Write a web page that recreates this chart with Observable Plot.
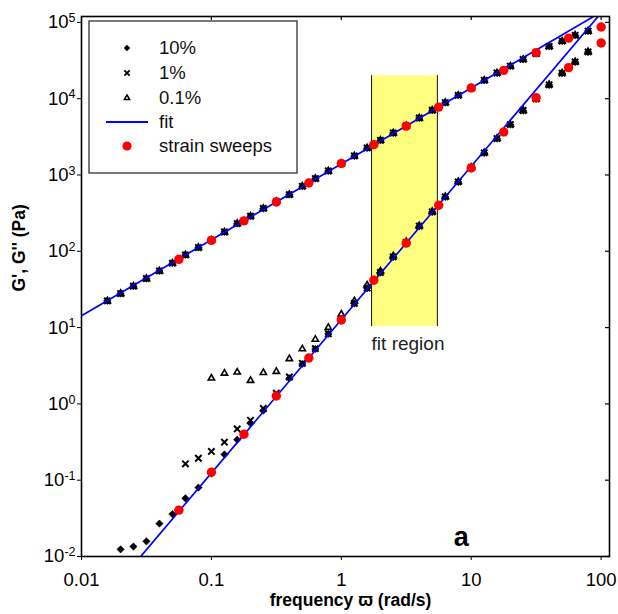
<!DOCTYPE html>
<html><head><meta charset="utf-8">
<script src="https://cdn.jsdelivr.net/npm/d3@7"></script>
<script src="https://cdn.jsdelivr.net/npm/@observablehq/plot@0.6"></script>
<style>
html,body{margin:0;padding:0;background:#fff;}
#chart{width:618px;height:614px;}
</style></head><body><div id="chart"></div>
<script>
// ---- data ----
const freq = [0.0158,0.02,0.0251,0.0316,0.0398,0.0501,0.0631,0.0794,0.1,0.126,0.158,0.2,0.251,0.316,0.398,0.501,0.631,0.794,1,1.26,1.58,2,2.51,3.16,3.98,5.01,6.31,7.94,10,12.6,15.8,20,25.1,31.6,39.8,50.1,63.1,79.4];
// G'' (loss modulus), same for all three strains
const gpp10 = [22.4,27.9,34.9,43.9,55.3,69.8,89.6,112,140,179,231,288,364,450,553,711,897,1128,1410,1775,2260,2850,3550,4400,5580,7050,8890,11050,13700,17400,21700,26700,32700,39000,48400,56900,67600,76900];
const gpp1 = gpp10;
const gpp01 = gpp10;
// G' (storage modulus)
const gp10 = [null,0.0124,0.0135,0.0158,0.027,0.036,0.058,0.080,0.122,0.217,0.34,0.557,0.82,1.3,2.17,3.34,5.25,8.26,12.8,20.7,32.8,52.5,84.2,130,213,327,515,809,1250,1940,2990,4560,6970,9900,15100,21500,30200,40800];
const gp1 = [null,null,null,null,null,null,0.164,0.194,0.238,0.315,0.47,0.61,0.87,1.38,2.25,3.4,5.3,8.3,12.9,20.8,33,52.8,84.5,131,214,329,517,812,1255,1950,3000,4580,7000,9950,15200,21600,30300,41000];
const gp01 = [null,null,null,null,null,null,null,null,2.17,2.52,2.6,2.02,2.57,2.65,3.9,5.25,7.0,10,15,22.4,36,55,87,133,216,332,520,818,1260,1960,3010,4600,7030,10000,15300,21700,30400,41200];
// strain sweeps
const ssFreq = [0.0562,0.1,0.178,0.316,0.562,1,1.78,3.16,5.62,10,17.8,31.6,56.2,100];
const ssGpp = [78.5,139,250,443,785,1413,2496,4370,7760,13800,23500,40100,62200,87000];
const ssGp = [0.0405,0.127,0.40,1.27,4.0,12.6,41.7,128,401,1236,3660,10300,25500,53700];
// power-law fits (end points)
const fitGppX = [0.01,116], fitGppY = [14.3,158000];
const fitGpX = [0.02,116], fitGpY = [0.00489,179000];
// fit region
const fitRegionX = [1.71,5.49], fitRegionY = [10.3,20000];
// ticks
const xTicks = [0.01,0.1,1,10,100];
const xTickLabels = ["0.01","0.1","1","10","100"];
const yTicks = [1e-2,1e-1,1e0,1e1,1e2,1e3,1e4,1e5];
const yTickExp = ["-2","-1","0","1","2","3","4","5"];
const legendItems = ["10%","1%","0.1%","fit","strain sweeps"];

const FONT = '"Liberation Sans", Arial, Helvetica, sans-serif';
const pts = (xs, ys) => xs.map((x,i)=>({x, y: ys[i]})).filter(d => d.y != null);

const plot = Plot.plot({
  width: 618, height: 614,
  marginLeft: 81, marginRight: 9, marginTop: 16, marginBottom: 58,
  style: {fontFamily: FONT, fontSize: "18px", color: "black", background: "white"},
  x: {type: "log", domain: [0.01, 116]},
  y: {type: "log", domain: [0.01, 1.194e5]},
  marks: [
    Plot.rect([0], {x1: fitRegionX[0], x2: fitRegionX[1], y1: fitRegionY[0], y2: fitRegionY[1], fill: "#ffff80"}),
    Plot.ruleX(fitRegionX, {x: d => d, y1: fitRegionY[0], y2: fitRegionY[1], stroke: "#111", strokeWidth: 1}),
    Plot.text(["fit region"], {x: fitRegionX[0], y: fitRegionY[0], textAnchor: "start", dy: 17, fontSize: 19, fill: "#222"}),
    Plot.axisX({ticks: xTicks, tickFormat: d => xTickLabels[xTicks.indexOf(d)], tickSize: 4, tickPadding: 12, label: null, fontSize: 18.5}),
    Plot.axisY({ticks: yTicks, tickFormat: d => "10^" + yTickExp[yTicks.indexOf(d)], tickSize: 4, tickPadding: 2, label: null, fontSize: 18.5}),
    Plot.tickX(xTicks.slice(1), {x: d => d, insetBottom: 536, stroke: "black", strokeWidth: 1.2}),
    Plot.tickY(yTicks, {y: d => d, insetLeft: 524, stroke: "black", strokeWidth: 1.2}),
    // 0.1%
    Plot.dot(pts(freq, gpp01), {x: "x", y: "y", symbol: "triangle2", r: 3, stroke: "black", strokeWidth: 1.6}),
    Plot.dot(pts(freq, gp01), {x: "x", y: "y", symbol: "triangle2", r: 3, stroke: "black", strokeWidth: 1.6}),
    // 1%
    Plot.dot(pts(freq, gpp1), {x: "x", y: "y", symbol: "times", r: 3, stroke: "black", strokeWidth: 2}),
    Plot.dot(pts(freq, gp1), {x: "x", y: "y", symbol: "times", r: 3, stroke: "black", strokeWidth: 2}),
    // 10%
    Plot.dot(pts(freq, gpp10), {x: "x", y: "y", symbol: "diamond2", r: 3.3, fill: "black", stroke: "black", strokeWidth: 0.6}),
    Plot.dot(pts(freq, gp10), {x: "x", y: "y", symbol: "diamond2", r: 3.3, fill: "black", stroke: "black", strokeWidth: 0.6}),
    // fits
    Plot.line(pts(fitGppX, fitGppY), {x: "x", y: "y", stroke: "#0000ff", strokeWidth: 1.7, clip: true}),
    Plot.line(pts(fitGpX, fitGpY), {x: "x", y: "y", stroke: "#0000ff", strokeWidth: 1.7, clip: true}),
    // strain sweeps
    Plot.dot(pts(ssFreq, ssGpp), {x: "x", y: "y", r: 4.7, fill: "#ff0000"}),
    Plot.dot(pts(ssFreq, ssGp), {x: "x", y: "y", r: 4.7, fill: "#ff0000"}),
    Plot.frame({stroke: "black", strokeWidth: 1.6}),
    Plot.text(["a"], {x: 8.4, frameAnchor: "bottom", dy: -11, fontSize: 27, fontWeight: "bold"}),
    Plot.text(["frequency \u03D6 (rad/s)"], {frameAnchor: "bottom", dx: 5, dy: 49, fontSize: 17.5, fontWeight: "bold"}),
    Plot.text(["G', G'' (Pa)"], {frameAnchor: "left", rotate: -90, dx: -62, dy: 5, fontSize: 17.5, fontWeight: "bold"})
  ]
});

// superscript exponents on the y tick labels
d3.select(plot).selectAll('g[aria-label="y-axis tick label"] text').each(function() {
  const t = d3.select(this);
  const s = t.text();
  const i = s.indexOf("^");
  if (i < 0) return;
  t.text(s.slice(0, i));
  t.append("tspan").attr("dy", "-0.5em").attr("font-size", "12.5px").text(s.slice(i + 1));
});

// legend
const svg = d3.select(plot);
const lg = svg.append("g").attr("font-family", FONT).attr("font-size", 18.5).attr("text-anchor", "start");
lg.append("rect").attr("x", 89).attr("y", 21).attr("width", 208).attr("height", 152)
  .attr("fill", "white").attr("stroke", "#222").attr("stroke-width", 1.2);
const rowY = [48, 73, 98, 122, 146];
const mx = 127, tx = 159;
lg.append("path").attr("transform", `translate(${mx},${rowY[0]})`)
  .attr("d", d3.symbol(d3.symbolDiamond2, 23)()).attr("fill", "black").attr("stroke", "black").attr("stroke-width", 0.5);
lg.append("path").attr("transform", `translate(${mx},${rowY[1]})`)
  .attr("d", d3.symbol(d3.symbolTimes, 20)()).attr("fill", "none").attr("stroke", "black").attr("stroke-width", 1.8);
lg.append("path").attr("transform", `translate(${mx},${rowY[2]})`)
  .attr("d", d3.symbol(d3.symbolTriangle2, 20)()).attr("fill", "none").attr("stroke", "black").attr("stroke-width", 1.5);
lg.append("line").attr("x1", 106).attr("x2", 148).attr("y1", rowY[3]).attr("y2", rowY[3])
  .attr("stroke", "#0000ff").attr("stroke-width", 1.8);
lg.append("circle").attr("cx", mx).attr("cy", rowY[4]).attr("r", 4.6).attr("fill", "#ff0000");
legendItems.forEach((s, i) => {
  lg.append("text").attr("x", tx).attr("y", rowY[i]).attr("dy", "0.35em").attr("fill", "#111").text(s);
});

document.getElementById("chart").appendChild(plot);
</script></body></html>
